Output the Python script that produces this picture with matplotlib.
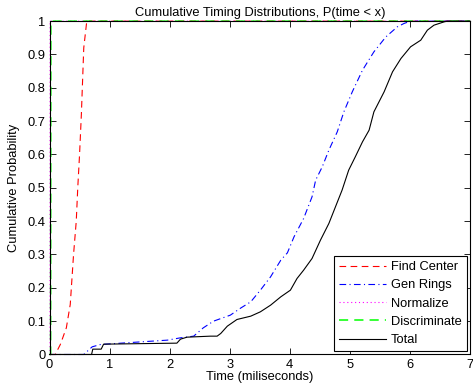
import matplotlib
matplotlib.use("Agg")
import matplotlib.pyplot as plt

plt.rcParams['font.family'] = ['Liberation Sans', 'DejaVu Sans']

# Find Center
fc_t = [0.0, 0.095, 0.18, 0.28, 0.345, 0.40, 0.445, 0.47, 0.50, 0.53, 0.55, 0.57, 0.62, 7.0]
fc_p = [0.0, 0.0, 0.03, 0.08, 0.15, 0.30, 0.40, 0.50, 0.60, 0.72, 0.82, 0.92, 1.0, 1.0]

# Gen Rings
gr_t = [0.0, 0.57, 0.71, 0.85, 1.96, 2.18, 2.40, 2.56, 2.73, 3.01, 3.18, 3.35, 3.51, 3.68,
        3.85, 3.96, 4.07, 4.23, 4.37, 4.43, 4.54, 4.65, 4.79, 4.90, 5.04, 5.21, 5.40,
        5.60, 5.79, 5.90, 6.01, 7.0]
gr_p = [0.0, 0.0, 0.023, 0.03, 0.043, 0.05, 0.055, 0.08, 0.10, 0.118, 0.139, 0.158, 0.193,
        0.233, 0.283, 0.305, 0.353, 0.408, 0.473, 0.523, 0.563, 0.613, 0.668, 0.728, 0.788,
        0.853, 0.908, 0.953, 0.983, 0.993, 1.0, 1.0]

# Normalize
nm_t = [0.0, 0.008, 0.010, 7.0]
nm_p = [0.0, 0.0, 1.0, 1.0]

# Discriminate
ds_t = [0.0, 0.018, 0.022, 7.0]
ds_p = [0.0, 0.0, 1.0, 1.0]

# Total
tt_t = [0.0, 0.70, 0.72, 0.86, 0.90, 2.12, 2.18, 2.29, 2.68, 2.79, 2.85, 2.96, 3.04, 3.12,
        3.35, 3.51, 3.68, 3.85, 4.01, 4.12, 4.23, 4.33, 4.37, 4.51, 4.65, 4.76, 4.87,
        4.98, 5.09, 5.21, 5.32, 5.40, 5.57, 5.71, 5.85, 6.01, 6.18, 6.29, 6.40, 6.57,
        6.62, 7.0]
tt_p = [0.0, 0.0, 0.016, 0.016, 0.031, 0.034, 0.046, 0.052, 0.055, 0.055, 0.063, 0.085,
        0.095, 0.105, 0.115, 0.128, 0.148, 0.173, 0.193, 0.228, 0.253, 0.278, 0.288, 0.343,
        0.393, 0.443, 0.493, 0.553, 0.593, 0.638, 0.673, 0.728, 0.788, 0.848, 0.888,
        0.923, 0.943, 0.973, 0.988, 0.998, 1.0, 1.0]

x_ticks = [0, 1, 2, 3, 4, 5, 6, 7]
y_ticks = [0, 0.1, 0.2, 0.3, 0.4, 0.5, 0.6, 0.7, 0.8, 0.9, 1]
y_labels = ['0', '0.1', '0.2', '0.3', '0.4', '0.5', '0.6', '0.7', '0.8', '0.9', '1']

fs = 9.3
fig = plt.figure(figsize=(4.73, 3.92), dpi=100)
ax = fig.add_axes([0.1047, 0.0957, 0.889, 0.8503])

lw = 0.8
ax.plot(fc_t, fc_p, color='#ff0000', linestyle=(0, (6, 4)), lw=lw, label='Find Center', clip_on=False)
ax.plot(gr_t, gr_p, color='#0000ff', linestyle=(0, (6, 3, 1, 3)), lw=lw, label='Gen Rings', clip_on=False)
ax.plot(nm_t, nm_p, color='#ff00ff', linestyle=(0, (1, 2.5)), lw=lw, label='Normalize', clip_on=False)
ax.plot(ds_t, ds_p, color='#00ff00', linestyle=(0, (6, 4)), lw=lw + 0.3, label='Discriminate', clip_on=False)
ax.plot(tt_t, tt_p, color='black', linestyle='-', lw=lw, label='Total', clip_on=False)

ax.set_xlim(0, 7)
ax.set_ylim(0, 1)
ax.set_xticks(x_ticks)
ax.set_xticklabels([str(v) for v in x_ticks])
ax.set_yticks(y_ticks)
ax.set_yticklabels(y_labels)
ax.tick_params(direction='in', top=True, right=True, labelsize=fs, length=4, width=0.6, pad=3)
for s in ax.spines.values():
    s.set_linewidth(0.8)

ax.set_title('Cumulative Timing Distributions, P(time < x)', fontsize=fs, pad=4)
ax.set_xlabel('Time (miliseconds)', fontsize=fs, labelpad=0)
ax.set_ylabel('Cumulative Probability', fontsize=fs, labelpad=5)

leg = ax.legend(loc='lower right', fontsize=fs, frameon=True, fancybox=False,
                edgecolor='black', framealpha=1, borderaxespad=0.25, handlelength=3.6,
                labelspacing=0.48, borderpad=0.4, handletextpad=0.4)
leg.get_frame().set_linewidth(0.8)

fig.savefig('out.png', dpi=100)
